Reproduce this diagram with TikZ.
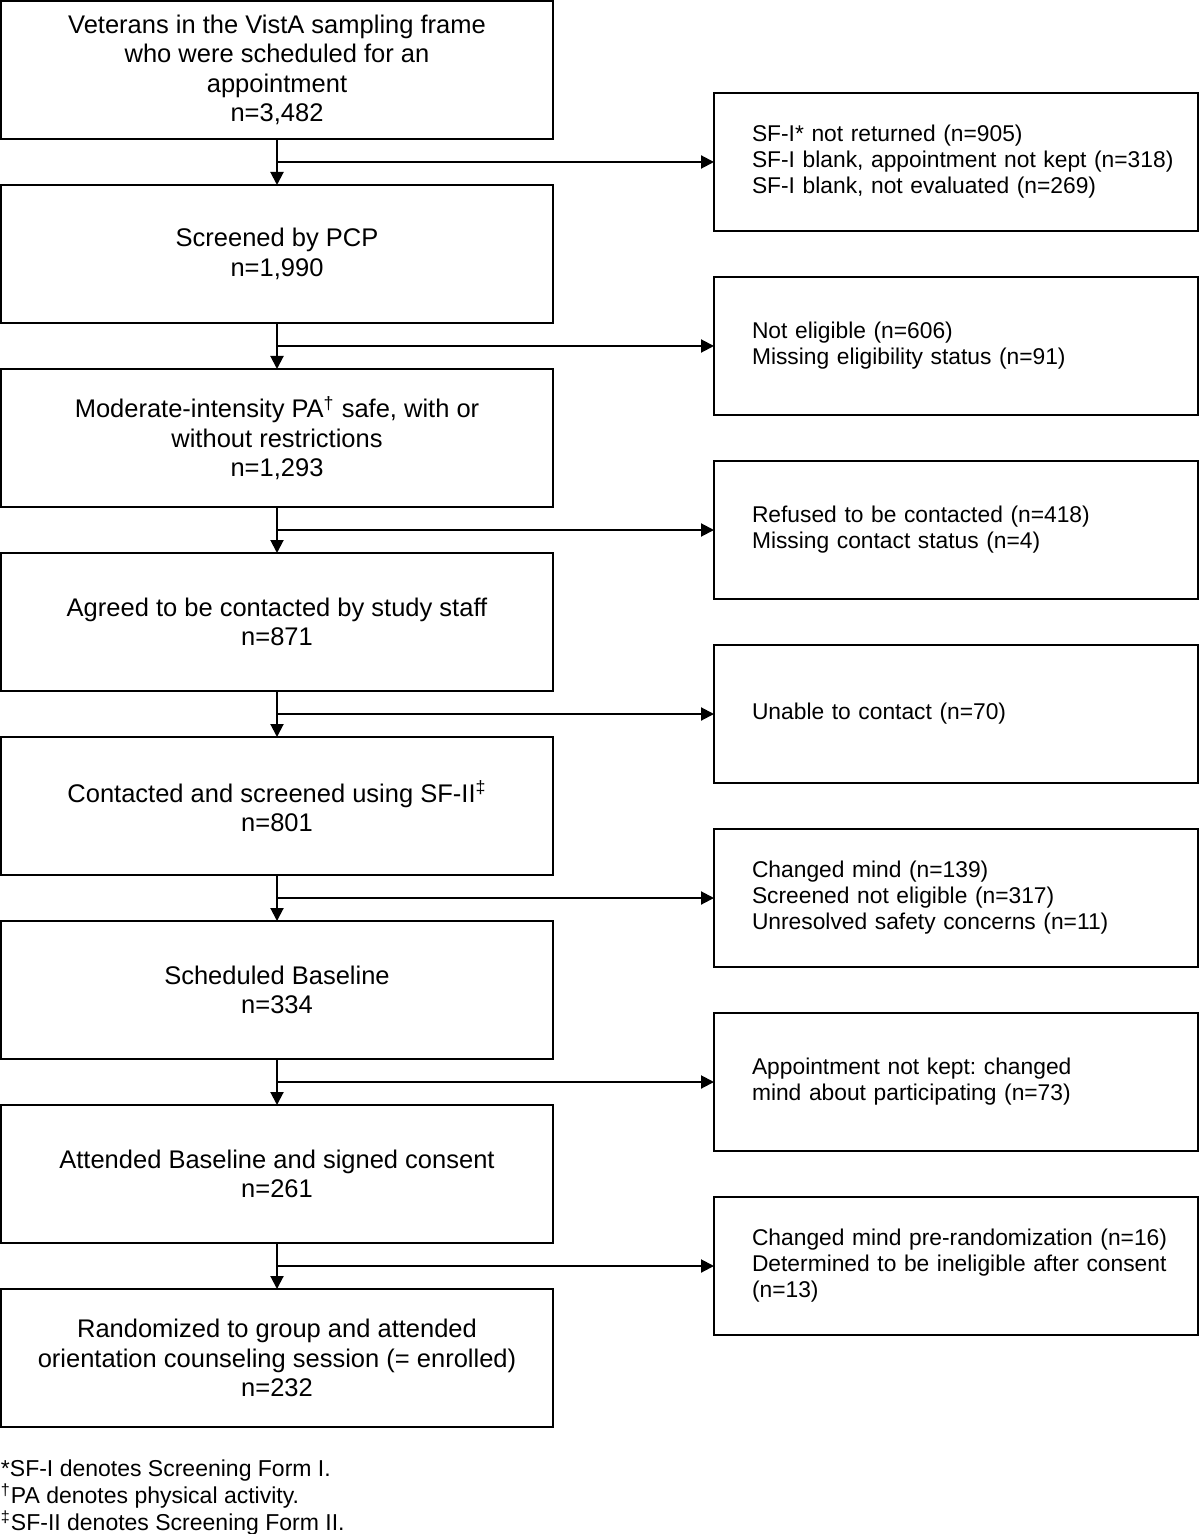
\documentclass[tikz,border=0pt]{standalone}
\usepackage{fontspec}
\setmainfont{Liberation Sans}
\frenchspacing
\usetikzlibrary{positioning}
\usetikzlibrary{arrows.meta}

\begin{document}
\begin{tikzpicture}[
  line width=1pt,
  node distance=23pt,
  stage/.style={draw, outer sep=0pt, minimum width=276pt, minimum height=69pt, align=center, font=\fontsize{12.75pt}{14.65pt}\selectfont},
  excluded/.style={draw, outer sep=0pt, minimum width=242pt, minimum height=69pt, text width=220pt, inner xsep=11pt, align=left, execute at begin node={\leftskip=8pt}, font=\fontsize{11.4pt}{13pt}\selectfont},
  flow/.style={-{Triangle[length=6.5pt,width=6.5pt]}}
]
\useasboundingbox (0,0) rectangle (600pt,-767pt);

% main column
\node (frame) [stage, anchor=north west] at (0.5pt,-0.5pt) {Veterans in the VistA sampling frame\\who were scheduled for an\\appointment\\n=3,482};
\node (pcp) [stage, below=of frame] {Screened by PCP\\n=1,990};
\node (pasafe) [stage, below=of pcp] {Moderate-intensity PA\textsuperscript{\textdagger} safe, with or\\without restrictions\\n=1,293};
\node (agreed) [stage, below=of pasafe] {Agreed to be contacted by study staff\\n=871};
\node (contacted) [stage, below=of agreed] {Contacted and screened using SF-II\textsuperscript{\textdaggerdbl}\\n=801};
\node (scheduled) [stage, below=of contacted] {Scheduled Baseline\\n=334};
\node (consent) [stage, below=of scheduled] {Attended Baseline and signed consent\\n=261};
\node (enrolled) [stage, below=of consent] {Randomized to group and attended\\orientation counseling session (= enrolled)\\n=232};

\draw [flow] (frame) -- (pcp);
\draw [flow] (pcp) -- (pasafe);
\draw [flow] (pasafe) -- (agreed);
\draw [flow] (agreed) -- (contacted);
\draw [flow] (contacted) -- (scheduled);
\draw [flow] (scheduled) -- (consent);
\draw [flow] (consent) -- (enrolled);

% branch points
\coordinate [below=11.5pt of frame] (b1);
\coordinate [below=11.5pt of pcp] (b2);
\coordinate [below=11.5pt of pasafe] (b3);
\coordinate [below=11.5pt of agreed] (b4);
\coordinate [below=11.5pt of contacted] (b5);
\coordinate [below=11.5pt of scheduled] (b6);
\coordinate [below=11.5pt of consent] (b7);

% exclusions
\node (notret) [excluded, right=218.5pt of b1] {SF-I* not returned (n=905)\\SF-I blank, appointment not kept (n=318)\\SF-I blank, not evaluated (n=269)};
\node (noteligible) [excluded, right=218.5pt of b2] {Not eligible (n=606)\\Missing eligibility status (n=91)};
\node (refused) [excluded, right=218.5pt of b3] {Refused to be contacted (n=418)\\Missing contact status (n=4)};
\node (unable) [excluded, right=218.5pt of b4] {Unable to contact (n=70)};
\node (changed) [excluded, right=218.5pt of b5] {Changed mind (n=139)\\Screened not eligible (n=317)\\Unresolved safety concerns (n=11)};
\node (notkept) [excluded, right=218.5pt of b6] {Appointment not kept: changed\\mind about participating (n=73)};
\node (prerand) [excluded, right=218.5pt of b7] {Changed mind pre-randomization (n=16)\\Determined to be ineligible after consent\\(n=13)};

\draw [flow] (b1) -- (notret);
\draw [flow] (b2) -- (noteligible);
\draw [flow] (b3) -- (refused);
\draw [flow] (b4) -- (unable);
\draw [flow] (b5) -- (changed);
\draw [flow] (b6) -- (notkept);
\draw [flow] (b7) -- (prerand);

% footnotes
\node (notes) [below right=16pt and -0.5pt of enrolled.south west, inner sep=0pt, align=left, font=\fontsize{11.5pt}{12.5pt}\selectfont] {*SF-I denotes Screening Form I.\\\textsuperscript{\textdagger}PA denotes physical activity.\\\textsuperscript{\textdaggerdbl}SF-II denotes Screening Form II.};
\end{tikzpicture}
\end{document}
